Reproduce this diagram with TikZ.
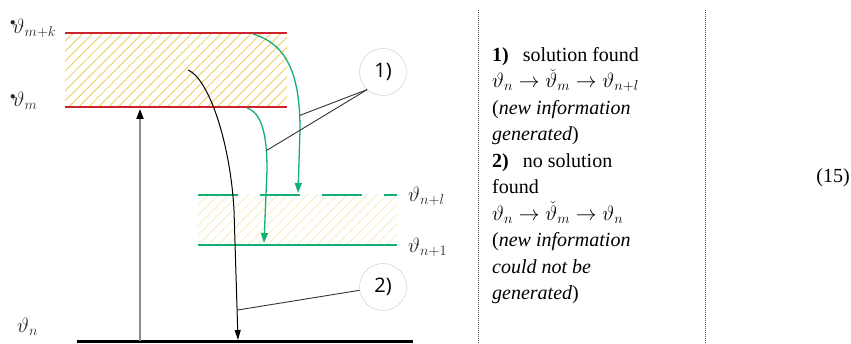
\documentclass[tikz,border=0pt]{standalone}
\usepackage{fontspec}
\setmainfont{Liberation Serif}
\newfontfamily\tagfont{Open Sans}
\usetikzlibrary{arrows.meta,positioning,patterns.meta,calc}
\definecolor{lvred}{RGB}{205,35,45}
\definecolor{lvgreen}{RGB}{20,175,115}
\definecolor{hatchyel}{RGB}{238,212,110}
\tikzset{
  redlvl/.style={draw=lvred,line width=2.6pt},
  grnlvl/.style={draw=lvgreen,line width=2.4pt},
  garr/.style={-{Triangle[length=10pt,width=7pt]},draw=lvgreen,line width=1.3pt},
  barr/.style={-{Triangle[length=10pt,width=6pt]},line width=1pt},
  numtag/.style={circle,draw=gray!45,minimum size=47pt,inner sep=0pt,
                 font=\tagfont\fontsize{20}{20}\selectfont},
  leadline/.style={draw=black!80,line width=0.9pt},
  lvlab/.style={anchor=west,inner sep=0pt,text=black!85,
                font=\fontsize{21}{21}\selectfont},
  divline/.style={draw=black!70,line width=1pt,dash pattern=on 1pt off 1pt},
}

\begin{document}
\begin{tikzpicture}[x=1pt,y=-1pt]
\useasboundingbox (0,0) rectangle (851,344);

% hatched bands
\fill[pattern={Lines[angle=45,distance=7pt,line width=1pt]},pattern color=hatchyel]
  (65,33) rectangle (287,107);
\fill[pattern={Lines[angle=45,distance=7pt,line width=0.8pt]},pattern color=hatchyel!45]
  (198,195) rectangle (397,245);

% levels
\draw[redlvl] (65,33) -- (287,33);
\draw[redlvl] (65,107) -- (287,107);
\draw[grnlvl,dash pattern=on 40pt off 22pt] (198,195) -- (397,195);
\draw[grnlvl] (198,245) -- (397,245);
\draw[line width=3pt] (77,342) -- (413,342);

\node[lvlab] (lmk) at (10,28) {$^{\scriptscriptstyle\bullet}\!\vartheta_{m+k}$};
\node[lvlab] (lm)  at (10,101) {$^{\scriptscriptstyle\bullet}\!\vartheta_{m}$};
\node[lvlab] (lnl) at (408,196) {$\vartheta_{n+l}$};
\node[lvlab] (ln1) at (408,247) {$\vartheta_{n+1}$};
\node[lvlab] (ln)  at (17,327) {$\vartheta_{n}$};

% transitions
\draw[draw=black!45,line width=2pt,-{Triangle[length=10pt,width=7pt,color=black]}]
  (140,341) -- (140,109);
\draw[barr] (188,70) .. controls (208,78) and (230,140) .. (234,210)
  -- (238,340) coordinate[pos=0.77] (hitb);
\draw[garr] (253,34) .. controls (290,45) and (300,80) .. (300,130)
  coordinate[pos=0.9] (hita) -- (298,193);
\draw[garr] (247,108) .. controls (262,113) and (267,135) .. (267,170)
  coordinate[pos=0.8] (hitc) -- (264,243);

% tags
\node[numtag] (c1) at (383,72) {1)};
\node[numtag] (c2) at (383,287) {2)};
\draw[leadline] (c1.228) -- (hita);
\draw[leadline] (c1.228) -- (hitc);
\draw[leadline] (c2.188) -- (hitb);

% legend
\draw[divline] (478,10) -- (478,344);
\draw[divline] (705,10) -- (705,344);
\node[anchor=north west,align=left,inner sep=0pt,
      font=\fontsize{20}{26.5}\selectfont] (legend) at (492,47)
  {\textbf{1)}\hspace{0.7em}solution found\\
   $\vartheta_n\rightarrow\check{\vartheta}_m\rightarrow\vartheta_{n+l}$\\
   (\textit{new information}\\
   \textit{generated})\\
   \textbf{2)}\hspace{0.7em}no solution\\
   found\\
   $\vartheta_n\rightarrow\check{\vartheta}_m\rightarrow\vartheta_n$\\
   (\textit{new information}\\
   \textit{could not be}\\
   \textit{generated})};
\node[anchor=east,inner sep=0pt,font=\fontsize{20}{20}\selectfont] (eqno) at (850,178) {(15)};
\end{tikzpicture}
\end{document}
